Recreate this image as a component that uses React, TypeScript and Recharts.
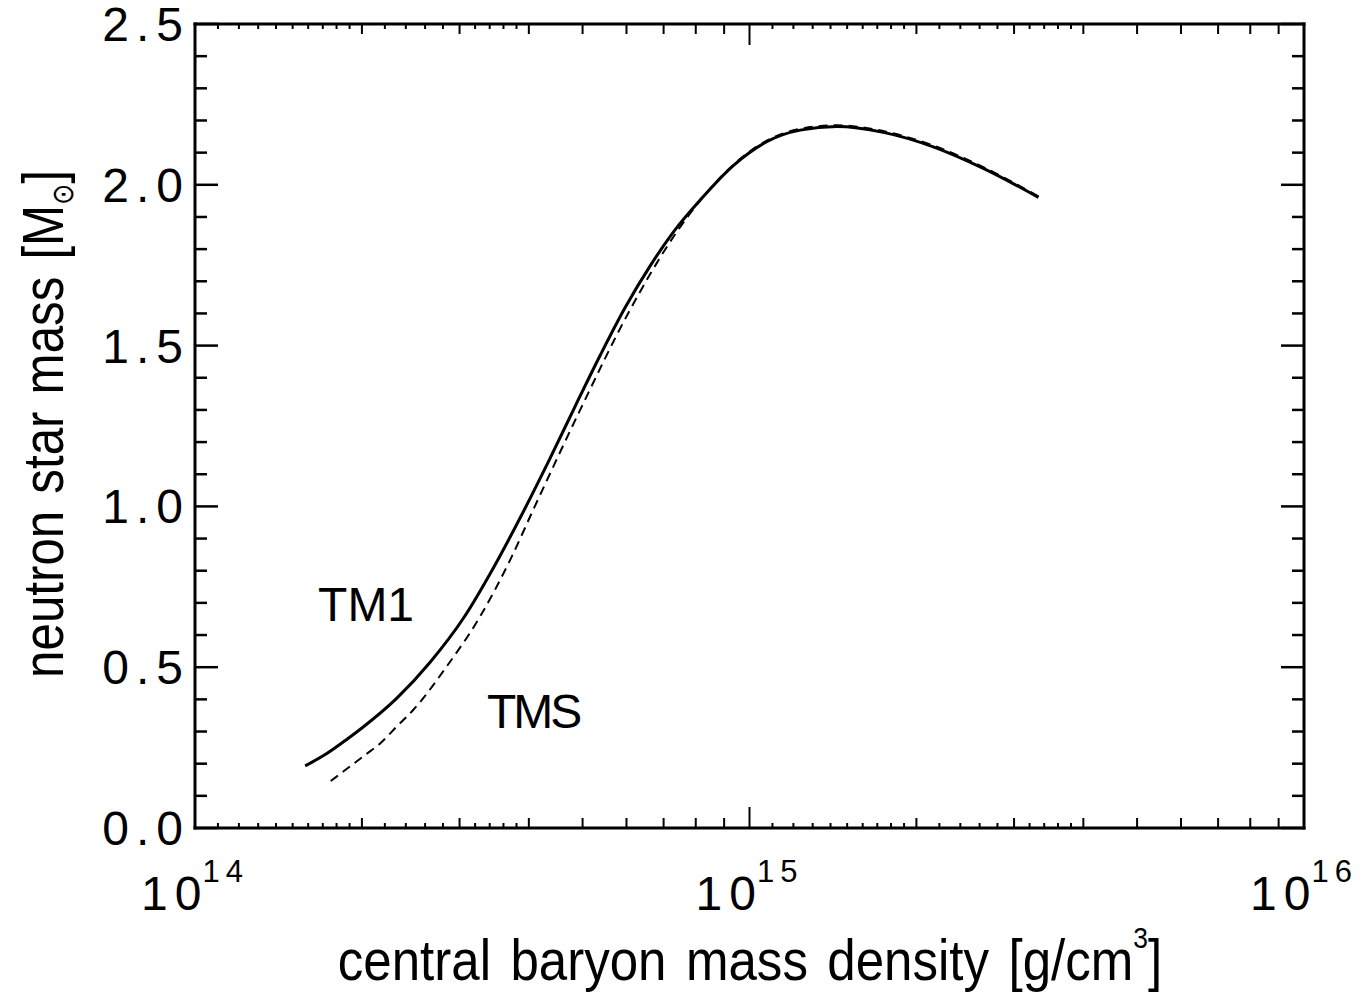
import { LineChart, Line, XAxis, YAxis, ReferenceDot } from 'recharts';

// central baryon mass density [g/cm^3] vs neutron star mass [Msun]
const tm1Density = [
  1.58e14, 1.72e14, 1.88e14, 2.0e14, 2.31e14, 2.65e14, 3.05e14, 3.45e14, 3.94e14, 4.37e14, 4.85e14, 5.38e14,
  5.96e14, 6.62e14, 7.34e14, 8.14e14, 9.35e14, 1.074e15, 1.234e15, 1.437e15, 1.743e15, 2.145e15, 2.64e15, 3.32e15,
];
const tm1Mass = [
  0.193, 0.229, 0.276, 0.311, 0.403, 0.514, 0.653, 0.808, 0.995, 1.15, 1.312, 1.47,
  1.617, 1.748, 1.86, 1.952, 2.06, 2.134, 2.17, 2.181, 2.163, 2.118, 2.051, 1.961,
];

const tmsDensity = [
  1.757e14, 2.026e14, 2.157e14, 2.31e14, 2.475e14, 2.843e14, 3.266e14, 3.7e14, 4.1e14, 4.95e14, 6.04e14,
  7.37e14, 8.14e14, 9.35e14, 1.074e15, 1.234e15, 1.437e15, 1.743e15, 2.145e15, 2.64e15, 3.32e15,
];
const tmsMass = [
  0.146, 0.227, 0.263, 0.315, 0.367, 0.502, 0.657, 0.833, 1.0, 1.3, 1.6,
  1.85, 1.95, 2.062, 2.137, 2.174, 2.185, 2.167, 2.122, 2.055, 1.964,
];

// axis ticks
const xDecades = [1e14, 1e15, 1e16];
const xDecadeLabels = ['14', '15', '16'];
const xMediumMantissas = [2, 3, 4, 5, 6, 7, 8, 9];
const xShortMantissas = [1.1, 1.2, 1.3, 1.4, 1.5, 1.6, 1.7, 1.8, 1.9, 2.2, 2.4, 2.6, 2.8, 3.2, 3.4, 3.6, 3.8];

const yTicks = [
  0, 0.1, 0.2, 0.3, 0.4, 0.5, 0.6, 0.7, 0.8, 0.9, 1.0, 1.1, 1.2, 1.3, 1.4, 1.5, 1.6, 1.7, 1.8, 1.9, 2.0, 2.1, 2.2,
  2.3, 2.4, 2.5,
];
const yMajorTicks = [0, 0.5, 1.0, 1.5, 2.0, 2.5];
const yTickLabels = ['0.0', '0.5', '1.0', '1.5', '2.0', '2.5'];

const curveLabels = [
  { text: 'TM1', density: 1.667e14, mass: 0.644, spacing: 0 },
  { text: 'TMS', density: 3.362e14, mass: 0.311, spacing: -3 },
];

const FONT = '"Liberation Sans", Arial, Helvetica, sans-serif';

const tm1 = tm1Density.map((rho, i) => ({ rho, mass: tm1Mass[i] }));
const tms = tmsDensity.map((rho, i) => ({ rho, mass: tmsMass[i] }));

type XTickInfo = { value: number; len: number; label?: string };
const xTickInfo: XTickInfo[] = [];
xDecades.forEach((d, i) => {
  xTickInfo.push({ value: d, len: 21, label: xDecadeLabels[i] });
  if (i < xDecades.length - 1) {
    xMediumMantissas.forEach((m) => xTickInfo.push({ value: m * d, len: 10 }));
    xShortMantissas.forEach((m) => xTickInfo.push({ value: m * d, len: 5 }));
  }
});
xTickInfo.sort((a, b) => a.value - b.value);
const xTicks = xTickInfo.map((t) => t.value);

const findX = (v: number) => xTickInfo.find((t) => Math.abs(t.value - v) / t.value < 1e-6);
const majorIndex = (v: number) => yMajorTicks.findIndex((m) => Math.abs(m - v) < 1e-6);

function BottomTick(props: any) {
  const { x, y, payload } = props;
  const t = findX(payload.value);
  if (!t) return null;
  return (
    <g>
      <line x1={x} x2={x} y1={y} y2={y - t.len} stroke="#000" strokeWidth={2} />
      {t.label && (
        <text x={x} y={y + 82} textAnchor="middle" fontFamily={FONT} fontSize={48} fill="#000">
          <tspan letterSpacing={7}>1</tspan>
          <tspan>0</tspan>
          <tspan dx={1} dy={-28} fontSize={31} letterSpacing={6}>
            {t.label}
          </tspan>
        </text>
      )}
    </g>
  );
}

function TopTick(props: any) {
  const { x, y, payload } = props;
  const t = findX(payload.value);
  if (!t) return null;
  return <line x1={x} x2={x} y1={y} y2={y + t.len} stroke="#000" strokeWidth={2} />;
}

function LeftTick(props: any) {
  const { x, y, payload } = props;
  const idx = majorIndex(payload.value);
  const major = idx >= 0;
  return (
    <g>
      <line x1={x} x2={x + (major ? 23 : 12)} y1={y} y2={y} stroke="#000" strokeWidth={2.5} />
      {major && (
        <text x={x - 5} y={y + 17} textAnchor="end" fontFamily={FONT} fontSize={48} letterSpacing={7} fill="#000">
          {yTickLabels[idx]}
        </text>
      )}
    </g>
  );
}

function RightTick(props: any) {
  const { x, y, payload } = props;
  const major = majorIndex(payload.value) >= 0;
  return <line x1={x} x2={x - (major ? 23 : 12)} y1={y} y2={y} stroke="#000" strokeWidth={2.5} />;
}

const frame = { stroke: '#000', strokeWidth: 3, strokeLinecap: 'square' as const };

export default function App() {
  return (
    <div style={{ position: 'absolute', left: 0, top: 0, width: 1364, height: 994, background: '#fff' }}>
      <LineChart width={1364} height={994} margin={{ top: 23, right: 59, bottom: 165, left: 194 }}>
        <XAxis
          xAxisId="bottom"
          dataKey="rho"
          type="number"
          scale="log"
          domain={[1e14, 1e16]}
          allowDataOverflow
          ticks={xTicks}
          interval={0}
          height={1}
          tickSize={0}
          tickMargin={0}
          tickLine={false}
          axisLine={frame}
          tick={<BottomTick />}
        />
        <XAxis
          xAxisId="top"
          orientation="top"
          dataKey="rho"
          type="number"
          scale="log"
          domain={[1e14, 1e16]}
          allowDataOverflow
          ticks={xTicks}
          interval={0}
          height={1}
          tickSize={0}
          tickMargin={0}
          tickLine={false}
          axisLine={frame}
          tick={<TopTick />}
        />
        <YAxis
          yAxisId="left"
          type="number"
          domain={[0, 2.5]}
          allowDataOverflow
          ticks={yTicks}
          interval={0}
          width={1}
          tickSize={0}
          tickMargin={0}
          tickLine={false}
          axisLine={frame}
          tick={<LeftTick />}
        />
        <YAxis
          yAxisId="right"
          orientation="right"
          type="number"
          domain={[0, 2.5]}
          allowDataOverflow
          ticks={yTicks}
          interval={0}
          width={1}
          tickSize={0}
          tickMargin={0}
          tickLine={false}
          axisLine={frame}
          tick={<RightTick />}
        />
        <Line
          xAxisId="bottom"
          yAxisId="left"
          data={tms}
          dataKey="mass"
          type="monotone"
          stroke="#000"
          strokeWidth={2}
          strokeDasharray="9 6"
          dot={false}
          activeDot={false}
          isAnimationActive={false}
        />
        <Line
          xAxisId="bottom"
          yAxisId="left"
          data={tm1}
          dataKey="mass"
          type="monotone"
          stroke="#000"
          strokeWidth={3}
          strokeLinejoin="round"
          dot={false}
          activeDot={false}
          isAnimationActive={false}
        />
        {curveLabels.map((l) => (
          <ReferenceDot
            key={l.text}
            xAxisId="bottom"
            yAxisId="left"
            x={l.density}
            y={l.mass}
            r={0}
            ifOverflow="visible"
            shape={(p: any) => (
              <text x={p.cx} y={p.cy} fontFamily={FONT} fontSize={48} letterSpacing={l.spacing} fill="#000">
                {l.text}
              </text>
            )}
          />
        ))}
      </LineChart>
      <svg
        width={1364}
        height={994}
        style={{ position: 'absolute', left: 0, top: 0, pointerEvents: 'none' }}
      >
        <g transform="translate(750,980) scale(0.88,1)">
          <text textAnchor="middle" fontFamily={FONT} fontSize={58} wordSpacing={6} fill="#000">
            central baryon mass density [g/cm
            <tspan dy={-32} fontSize={30}>
              3
            </tspan>
            <tspan dy={32}>]</tspan>
          </text>
        </g>
        <g transform="translate(63,424) rotate(-90) scale(0.85,1)">
          <text textAnchor="middle" fontFamily={FONT} fontSize={58} wordSpacing={4} fill="#000">
            neutron star mass [M
            <tspan dy={10} fontSize={30}>
              ⊙
            </tspan>
            <tspan dy={-10}>]</tspan>
          </text>
        </g>
      </svg>
    </div>
  );
}
